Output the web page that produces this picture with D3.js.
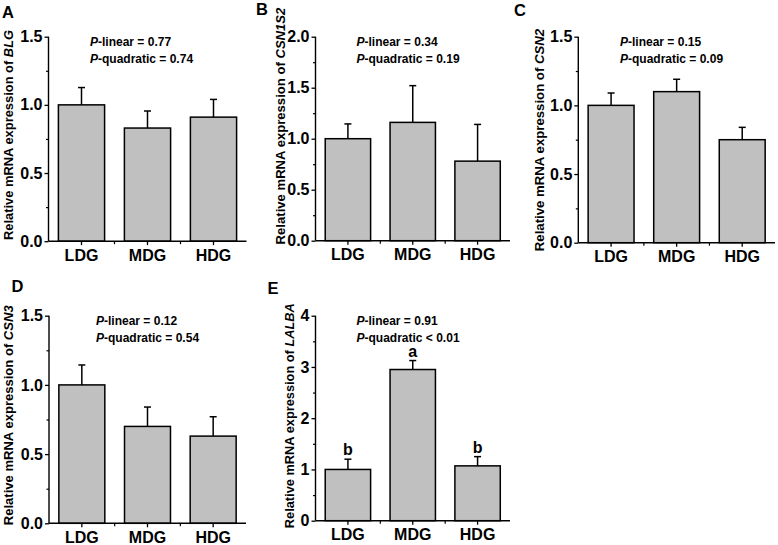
<!DOCTYPE html>
<html><head><meta charset="utf-8">
<script src="https://cdn.jsdelivr.net/npm/d3@7"></script>
<style>
body{margin:0;background:#fff;}
text{font-family:"Liberation Sans",Arial,sans-serif;font-weight:bold;fill:#000;}
</style></head>
<body><svg id="c" width="778" height="545"></svg>
<script>
// ---- data ----
const categories = ["LDG", "MDG", "HDG"];
const panelLetters = ["A", "B", "C", "D", "E"];
const genes = ["BLG", "CSN1S2", "CSN2", "CSN3", "LALBA"];
const blgMean = [1.00, 0.83, 0.91];
const blgSE = [0.127, 0.125, 0.13];
const csn1s2Mean = [1.00, 1.16, 0.78];
const csn1s2SE = [0.145, 0.36, 0.36];
const csn2Mean = [1.00, 1.10, 0.75];
const csn2SE = [0.09, 0.09, 0.09];
const csn3Mean = [1.00, 0.70, 0.63];
const csn3SE = [0.144, 0.14, 0.14];
const lalbaMean = [1.00, 2.95, 1.07];
const lalbaSE = [0.20, 0.175, 0.18];
const lalbaLetters = ["b", "a", "b"];
const yMax = [1.5, 2.0, 1.5, 1.5, 4];
const yMajorTicks = [[0, 0.5, 1.0, 1.5], [0, 0.5, 1.0, 1.5, 2.0], [0, 0.5, 1.0, 1.5], [0, 0.5, 1.0, 1.5], [0, 1, 2, 3, 4]];
const yMinorTicks = [[0.25, 0.75, 1.25], [0.25, 0.75, 1.25, 1.75], [0.25, 0.75, 1.25], [0.25, 0.75, 1.25], [0.5, 1.5, 2.5, 3.5]];
const pLinear = ["= 0.77", "= 0.34", "= 0.15", "= 0.12", "= 0.91"];
const pQuadratic = ["= 0.74", "= 0.19", "= 0.09", "= 0.54", "< 0.01"];

const means = [blgMean, csn1s2Mean, csn2Mean, csn3Mean, lalbaMean];
const ses = [blgSE, csn1s2SE, csn2SE, csn3SE, lalbaSE];
const sigLetters = [null, null, null, null, lalbaLetters];

// ---- layout ----
const layout = [
  {x0: 48.5, x1: 246.5, yT: 36.7, yB: 241.2, lx: 2, ly: 18, tx: 13, tc: 135, tf: 12.9, ax: 90, ay: 46},
  {x0: 315.5, x1: 510, yT: 36.7, yB: 240.7, lx: 256, ly: 15, tx: 285, tc: 126, tf: 13.1, ax: 356.5, ay: 46},
  {x0: 578.3, x1: 775, yT: 36.7, yB: 242.7, lx: 514, ly: 15.5, tx: 544, tc: 140, tf: 13.2, ax: 620, ay: 45.5},
  {x0: 49, x1: 246, yT: 315.7, yB: 523.3, lx: 11.5, ly: 292, tx: 13.3, tc: 415.3, tf: 13.05, ax: 96, ay: 325},
  {x0: 315.5, x1: 510, yT: 315.7, yB: 520.7, lx: 267.5, ly: 294, tx: 293.5, tc: 415.7, tf: 12.8, ax: 356.5, ay: 324.5}
];

const svg = d3.select("#c");

layout.forEach((L, i) => {
  const g = svg.append("g");
  const x = d3.scaleBand().domain(categories).range([L.x0, L.x1]).paddingInner(0.3).paddingOuter(0.15);
  const y = d3.scaleLinear().domain([0, yMax[i]]).range([L.yB, L.yT]);
  const data = categories.map((c, k) => ({c, m: means[i][k], se: ses[i][k], lab: sigLetters[i] ? sigLetters[i][k] : null}));

  // bars
  g.selectAll("rect.bar").data(data).join("rect")
    .attr("x", d => x(d.c)).attr("width", x.bandwidth())
    .attr("y", d => y(d.m)).attr("height", d => y(0) - y(d.m))
    .attr("fill", "#c0c0c0").attr("stroke", "#000").attr("stroke-width", 1.5);
  // error bars
  g.selectAll("line.err").data(data).join("line")
    .attr("x1", d => x(d.c) + x.bandwidth() / 2).attr("x2", d => x(d.c) + x.bandwidth() / 2)
    .attr("y1", d => y(d.m)).attr("y2", d => y(d.m + d.se))
    .attr("stroke", "#000").attr("stroke-width", 1.5);
  g.selectAll("line.cap").data(data).join("line")
    .attr("x1", d => x(d.c) + x.bandwidth() / 2 - 3.5).attr("x2", d => x(d.c) + x.bandwidth() / 2 + 3.5)
    .attr("y1", d => y(d.m + d.se)).attr("y2", d => y(d.m + d.se))
    .attr("stroke", "#000").attr("stroke-width", 1.5);
  // significance letters
  g.selectAll("text.sig").data(data.filter(d => d.lab)).join("text")
    .attr("x", d => x(d.c) + x.bandwidth() / 2).attr("y", d => y(d.m + d.se) - 4)
    .attr("text-anchor", "middle").style("font-size", "16px").text(d => d.lab);

  // y axis
  const yAxis = d3.axisLeft(y).tickValues(yMajorTicks[i]).tickSize(4).tickPadding(2)
    .tickFormat(yMax[i] === 4 ? d3.format("d") : d3.format(".1f"));
  const ya = g.append("g").attr("transform", `translate(${L.x0},0)`).call(yAxis);
  ya.select(".domain").attr("d", `M0,${L.yT}V${L.yB}`).attr("stroke-width", 1.4);
  ya.selectAll(".tick line").attr("stroke-width", 1.3);
  ya.selectAll("text").style("font-size", "16px").style("font-family", '"Liberation Sans",Arial,sans-serif').style("font-weight", "bold");
  const yMinorAxis = d3.axisLeft(y).tickValues(yMinorTicks[i]).tickSize(2.5).tickFormat("");
  const ym = g.append("g").attr("transform", `translate(${L.x0},0)`).call(yMinorAxis);
  ym.select(".domain").remove();
  ym.selectAll(".tick line").attr("stroke-width", 1.2);

  // x axis
  const xAxis = d3.axisBottom(x).tickSize(4).tickPadding(4);
  const xa = g.append("g").attr("transform", `translate(0,${L.yB})`).call(xAxis);
  xa.select(".domain").attr("d", `M${L.x0},0H${L.x1}`).attr("stroke-width", 1.4);
  xa.selectAll(".tick line").attr("stroke-width", 1.3);
  xa.selectAll("text").style("font-size", "16px").style("font-family", '"Liberation Sans",Arial,sans-serif').style("font-weight", "bold");
  // minor x ticks between categories
  const bounds = categories.slice(1).map(c => x(c) - x.step() * x.paddingInner() / 2);
  g.selectAll("line.xminor").data(bounds).join("line")
    .attr("x1", d => d).attr("x2", d => d).attr("y1", L.yB).attr("y2", L.yB + 3)
    .attr("stroke", "#000").attr("stroke-width", 1.2);

  // panel letter
  g.append("text").attr("x", L.lx).attr("y", L.ly).style("font-size", "16.5px").text(panelLetters[i]);

  // y title
  const t = g.append("text").attr("transform", `translate(${L.tx},${L.tc}) rotate(-90)`)
    .attr("text-anchor", "middle").style("font-size", L.tf + "px");
  t.append("tspan").text("Relative mRNA expression of ");
  t.append("tspan").style("font-style", "italic").text(genes[i]);

  // annotation
  const a1 = g.append("text").attr("x", L.ax).attr("y", L.ay).style("font-size", "12px");
  a1.append("tspan").style("font-style", "italic").text("P");
  a1.append("tspan").text("-linear " + pLinear[i]);
  const a2 = g.append("text").attr("x", L.ax).attr("y", L.ay + 17).style("font-size", "12px");
  a2.append("tspan").style("font-style", "italic").text("P");
  a2.append("tspan").text("-quadratic " + pQuadratic[i]);
});
</script></body></html>
